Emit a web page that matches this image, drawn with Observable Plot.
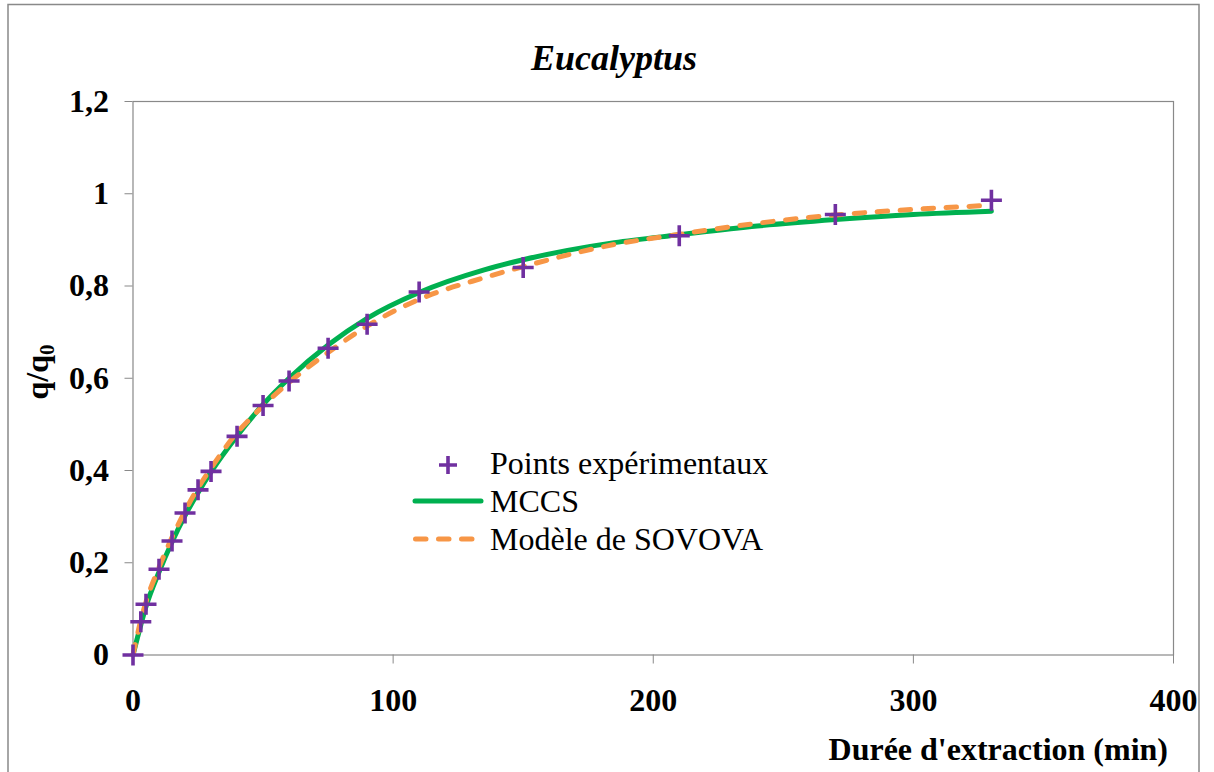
<!DOCTYPE html>
<html>
<head>
<meta charset="utf-8">
<script src="https://cdn.jsdelivr.net/npm/d3@7"></script>
<script src="https://cdn.jsdelivr.net/npm/@observablehq/plot@0.6"></script>
<style>
  html, body { margin: 0; padding: 0; background: #fff; }
  #chart { width: 1214px; height: 772px; overflow: hidden; }
  #chart svg text, #chart svg tspan { font-family: "Liberation Serif", "Times New Roman", serif; }
</style>
</head>
<body>
<div id="chart"></div>
<script>
// Experimental extraction curve (q/q0 versus time, min)
const times  = [0, 3, 5, 10, 15, 20, 25, 30, 40, 50, 60, 75, 90, 110, 150, 210, 270, 330];
const ratios = [0, 0.072, 0.110, 0.186, 0.247, 0.308, 0.358, 0.398, 0.474, 0.541, 0.594, 0.665, 0.717, 0.787, 0.840, 0.909, 0.955, 0.986];

// MCCS model curve
const mccsT = [0, 3, 5, 10, 15, 20, 25, 30, 40, 50, 60, 75, 90, 110, 135, 150, 185, 210, 240, 270, 300, 330];
const mccsQ = [0, 0.065, 0.105, 0.180, 0.245, 0.302, 0.352, 0.397, 0.475, 0.543, 0.600, 0.672, 0.730, 0.786, 0.835, 0.857, 0.894, 0.911, 0.930, 0.944, 0.955, 0.962];

// Sovová model curve
const sovovaT = [0, 3, 5, 10, 15, 20, 25, 30, 40, 45, 50, 60, 75, 90, 110, 135, 150, 185, 210, 240, 270, 300, 330];
const sovovaQ = [0, 0.075, 0.115, 0.190, 0.255, 0.312, 0.362, 0.405, 0.482, 0.512, 0.540, 0.591, 0.656, 0.713, 0.771, 0.818, 0.842, 0.890, 0.912, 0.936, 0.954, 0.966, 0.975];

const xTicks = [0, 100, 200, 300, 400];
const yTicks = [0, 0.2, 0.4, 0.6, 0.8, 1, 1.2];

const points = times.map((t, i) => ({t, q: ratios[i]}));
const mccs = mccsT.map((t, i) => ({t, q: mccsQ[i]}));
const sovova = sovovaT.map((t, i) => ({t, q: sovovaQ[i]}));

const serif = "'Liberation Serif', 'Times New Roman', serif";
const gray = "#898989";
const purple = "#7030A0", green = "#00B050", orange = "#F79646";

// thin stroked "+" marker
const plus = {
  draw(context, size) {
    const r = Math.sqrt(size / Math.PI);
    context.moveTo(-r, 0); context.lineTo(r, 0);
    context.moveTo(0, -r); context.lineTo(0, r);
  }
};

const decimal = d => String(d).replace(".", ",");

const chart = Plot.plot({
  width: 1214,
  height: 772,
  marginLeft: 132.5,
  marginRight: 41,
  marginTop: 101,
  marginBottom: 117.5,
  style: {fontFamily: serif, background: "#fff", color: "#000", overflow: "visible"},
  x: {domain: [0, 400]},
  y: {domain: [0, 1.2]},
  marks: [
    Plot.frame({stroke: gray, strokeWidth: 1.2}),
    Plot.axisX({ticks: xTicks, tickSize: 9, tickPadding: 24, stroke: gray, fill: "#000",
      fontSize: 32, fontWeight: "bold", label: null, tickFormat: d => String(d)}),
    Plot.axisY({ticks: yTicks, tickSize: 8, tickPadding: 16, stroke: gray, fill: "#000",
      fontSize: 32, fontWeight: "bold", label: null, tickFormat: decimal}),
    Plot.line(mccs, {x: "t", y: "q", stroke: green, strokeWidth: 5, curve: "monotone-x"}),
    Plot.line(sovova, {x: "t", y: "q", stroke: orange, strokeWidth: 5, curve: "monotone-x",
      strokeDasharray: "10.5,12.5", strokeLinecap: "round"}),
    Plot.dot(points, {x: "t", y: "q", symbol: plus, r: 10.5, fill: "none", stroke: purple, strokeWidth: 3.6})
  ]
});

document.getElementById("chart").appendChild(chart);

const svg = d3.select(chart);

// outer chart border
svg.insert("rect", ":first-child")
  .attr("x", 8).attr("y", 4.5).attr("width", 1191).attr("height", 820)
  .attr("fill", "#fff").attr("stroke", gray).attr("stroke-width", 1.5);

// title
svg.append("text")
  .attr("x", 614).attr("y", 70)
  .attr("text-anchor", "middle")
  .style("font-size", "36px").style("font-weight", "bold").style("font-style", "italic")
  .text("Eucalyptus");

// x axis title
svg.append("text")
  .attr("x", 1168).attr("y", 760)
  .attr("text-anchor", "end")
  .style("font-size", "32px").style("font-weight", "bold")
  .text("Durée d'extraction (min)");

// y axis title q/q0
const yt = svg.append("text")
  .attr("transform", "translate(48,372) rotate(-90)")
  .attr("text-anchor", "middle")
  .style("font-size", "32px").style("font-weight", "bold");
yt.append("tspan").text("q/q");
yt.append("tspan").style("font-size", "21px").attr("dy", 6).text("0");

// legend
const lg = svg.append("g").attr("text-anchor", "start").attr("fill", "#000");
const r = 9;
lg.append("path")
  .attr("d", `M${448 - r},465H${448 + r}M448,${465 - r}V${465 + r}`)
  .attr("stroke", purple).attr("stroke-width", 3.6).attr("fill", "none");
lg.append("line").attr("x1", 415).attr("x2", 481).attr("y1", 501).attr("y2", 501)
  .attr("stroke", green).attr("stroke-width", 5).attr("stroke-linecap", "round");
lg.append("line").attr("x1", 415.5).attr("x2", 475).attr("y1", 539).attr("y2", 539)
  .attr("stroke", orange).attr("stroke-width", 5).attr("stroke-linecap", "round")
  .attr("stroke-dasharray", "10.5,12.5");
[["Points expérimentaux", 474], ["MCCS", 512], ["Modèle de SOVOVA", 550]].forEach(([s, y]) => {
  lg.append("text").attr("x", 490).attr("y", y).style("font-size", "32px").text(s);
});
</script>
</body>
</html>
